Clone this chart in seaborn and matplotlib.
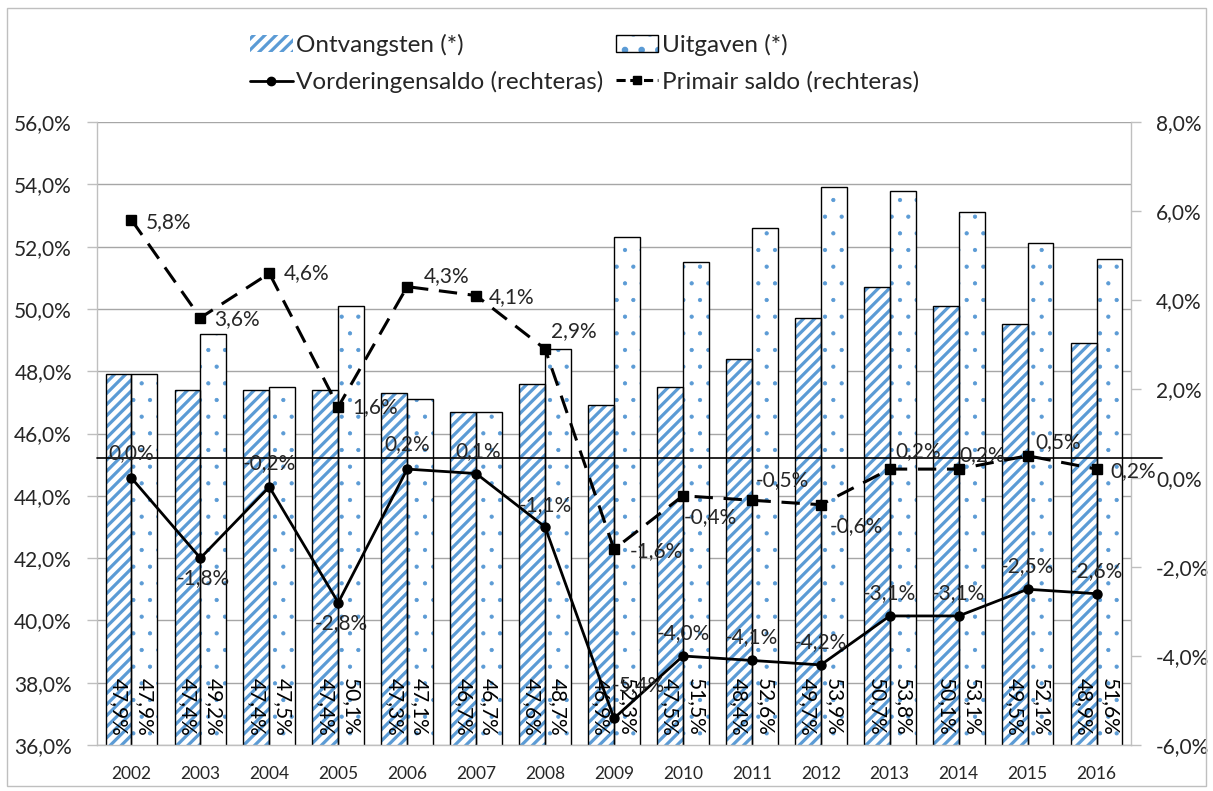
import numpy as np
import pandas as pd
import matplotlib
matplotlib.use("Agg")
import matplotlib.pyplot as plt
import seaborn as sns
from matplotlib.patches import Rectangle, Patch
from matplotlib.lines import Line2D
from matplotlib.ticker import FuncFormatter, FixedLocator

# ---- data -------------------------------------------------------------
years = [str(y) for y in range(2002, 2017)]
ontvangsten = [47.9, 47.4, 47.4, 47.4, 47.3, 46.7, 47.6, 46.9, 47.5, 48.4, 49.7, 50.7, 50.1, 49.5, 48.9]
uitgaven = [47.9, 49.2, 47.5, 50.1, 47.1, 46.7, 48.7, 52.3, 51.5, 52.6, 53.9, 53.8, 53.1, 52.1, 51.6]
vorderingensaldo = [0.0, -1.8, -0.2, -2.8, 0.2, 0.1, -1.1, -5.4, -4.0, -4.1, -4.2, -3.1, -3.1, -2.5, -2.6]
primair_saldo = [5.8, 3.6, 4.6, 1.6, 4.3, 4.1, 2.9, -1.6, -0.4, -0.5, -0.6, 0.2, 0.2, 0.5, 0.2]

series_names = ["Ontvangsten (*)", "Uitgaven (*)",
                "Vorderingensaldo (rechteras)", "Primair saldo (rechteras)"]

# ---- styling ----------------------------------------------------------
BLUE = "#5B9BD5"
GRID = "#A6A6A6"
AXIS = "#BFBFBF"
FS = 15
STRIPE_LW = 2.3
DOT_LW = 0.6

sns.set_style("white")
plt.rcParams["font.family"] = ["Lato", "DejaVu Sans"]
plt.rcParams["hatch.linewidth"] = STRIPE_LW


def pct(v, _=None):
    return f"{v:.1f}".replace(".", ",").replace("-0,0", "0,0") + "%"


def hatch_lw(patch, lw):
    if hasattr(patch, "set_hatch_linewidth"):
        patch.set_hatch_linewidth(lw)
    else:
        patch._hatch_linewidth = lw


W, H = 1213, 791
fig = plt.figure(figsize=(W / 100, H / 100), dpi=100)
ax = fig.add_axes([97 / W, 1 - 745 / H, (1131 - 97) / W, (745 - 122) / H])

df = pd.DataFrame({
    "jaar": years * 2,
    "waarde": ontvangsten + uitgaven,
    "reeks": [series_names[0]] * len(years) + [series_names[1]] * len(years),
})

sns.barplot(data=df, x="jaar", y="waarde", hue="reeks",
            palette={series_names[0]: "white", series_names[1]: "white"},
            width=0.75, saturation=1, legend=False, ax=ax, zorder=2)

hatches = ["///", "."]
hatch_widths = [STRIPE_LW, DOT_LW]
for cont, hatch, hlw, vals in zip(ax.containers, hatches, hatch_widths,
                                  [ontvangsten, uitgaven]):
    for bar, v in zip(cont, vals):
        bar.set_hatch(hatch)
        bar.set_edgecolor(BLUE)
        bar.set_linewidth(0)
        hatch_lw(bar, hlw)
        x0, y0 = bar.get_xy()
        ax.add_patch(Rectangle((x0, y0), bar.get_width(), bar.get_height(),
                               fill=False, edgecolor="black", linewidth=1.0, zorder=2.5))
        ax.text(x0 + bar.get_width() / 2, 36.3, pct(v), rotation=270,
                ha="center", va="bottom", fontsize=FS, color="black", zorder=3)

ax.set_ylim(36, 56)
ax.set_xlim(-0.5, len(years) - 0.5)
ax.yaxis.set_major_locator(FixedLocator(np.arange(36, 56.1, 2)))
ax.yaxis.set_major_formatter(FuncFormatter(pct))
ax.set_xlabel("")
ax.set_ylabel("")
ax.grid(axis="y", color=GRID, linewidth=1.0)
ax.grid(axis="x", visible=False)
ax.set_axisbelow(True)
ax.xaxis.set_minor_locator(FixedLocator(np.arange(-0.5, len(years), 1)))
ax.tick_params(axis="x", which="major", length=0, pad=15, labelsize=12.5)
ax.tick_params(axis="x", which="minor", length=7, color=AXIS, width=1)
ax.tick_params(axis="y", length=7, color=AXIS, width=1, pad=11, labelsize=FS)
for side in ["left", "bottom", "right"]:
    ax.spines[side].set_color(AXIS)
    ax.spines[side].set_linewidth(1)
ax.spines["top"].set_visible(False)

# ---- secondary axis: balances ------------------------------------------
ax2 = ax.twinx()
ax2.set_ylim(-6, 8)
ax2.yaxis.set_major_locator(FixedLocator(np.arange(-6, 8.1, 2)))
ax2.yaxis.set_major_formatter(FuncFormatter(pct))
ax2.tick_params(axis="y", length=7, color=AXIS, width=1, pad=11, labelsize=FS)
ax2.grid(False)
for side in ["left", "bottom", "right", "top"]:
    ax2.spines[side].set_visible(False)

ax2.plot([0, 1.03], [0.4607, 0.4607], transform=ax2.transAxes, color="black",
         linewidth=1.2, clip_on=False, zorder=1)

xpos = np.arange(len(years))
ax2.plot(xpos, vorderingensaldo, color="black", linewidth=2, marker="o",
         markersize=6.5, zorder=4)
ax2.plot(xpos, primair_saldo, color="black", linewidth=2.2, marker="s",
         markersize=7, dashes=(6, 3.5), zorder=4)

# label offsets in pixels (dx, dy with y downwards), alignment
vord_pos = [(0, -25, "center"), (3, 20, "center"), (0, -24, "center"), (3, 20, "center"),
            (0, -25, "center"), (2, -22, "center"), (0, -22, "center"), (24, -33, "center"),
            (0, -23, "center"), (0, -23, "center"), (0, -23, "center"), (0, -23, "center"),
            (0, -23, "center"), (0, -23, "center"), (0, -23, "center")]
prim_pos = [(14, 2, "left"), (14, 1, "left"), (14, 0, "left"), (14, 0, "left"),
            (17, -11, "left"), (13, 2, "left"), (29, -18, "center"), (16, 2, "left"),
            (27, 21, "center"), (31, -20, "center"), (36, 21, "center"), (28, -18, "center"),
            (24, -14, "center"), (31, -14, "center"), (14, 2, "left")]

for x, v, (dx, dy, ha) in zip(xpos, vorderingensaldo, vord_pos):
    ax2.annotate(pct(v), (x, v), xytext=(dx, -dy), textcoords="offset pixels",
                 ha=ha, va="center", fontsize=FS, zorder=5)
for x, v, (dx, dy, ha) in zip(xpos, primair_saldo, prim_pos):
    ax2.annotate(pct(v), (x, v), xytext=(dx, -dy), textcoords="offset pixels",
                 ha=ha, va="center", fontsize=FS, zorder=5)

# ---- legend -----------------------------------------------------------
leg_ontv = Patch(facecolor="white", edgecolor=BLUE, hatch="///", linewidth=0)
hatch_lw(leg_ontv, STRIPE_LW)
leg_uitg = Patch(facecolor="white", edgecolor=BLUE, hatch=".", linewidth=0)
hatch_lw(leg_uitg, DOT_LW)
h_ontv = (leg_ontv,)
h_uitg = (leg_uitg, Patch(facecolor="none", edgecolor="black", linewidth=1))
h_vord = Line2D([], [], color="black", linewidth=2, marker="o", markersize=6)
h_prim = Line2D([], [], color="black", linewidth=2.2, marker="s", markersize=6,
                dashes=(3, 1.5))
LFS = 17.5
fig.legend([h_ontv, h_vord, h_uitg, h_prim],
           [series_names[0], series_names[2], series_names[1], series_names[3]],
           loc="upper left", bbox_to_anchor=(250 / W, 1 - 34 / H), ncol=2,
           frameon=False, fontsize=LFS, borderaxespad=0, borderpad=0,
           handlelength=1.75, handleheight=0.65, handletextpad=0.15,
           columnspacing=0.5, labelspacing=0.62)

# chart border
fig.patches.append(Rectangle((7 / W, 5 / H), 1 - 14 / W, 1 - 13 / H,
                             transform=fig.transFigure, fill=False,
                             edgecolor=AXIS, linewidth=1))

fig.savefig("out.png", dpi=100)
